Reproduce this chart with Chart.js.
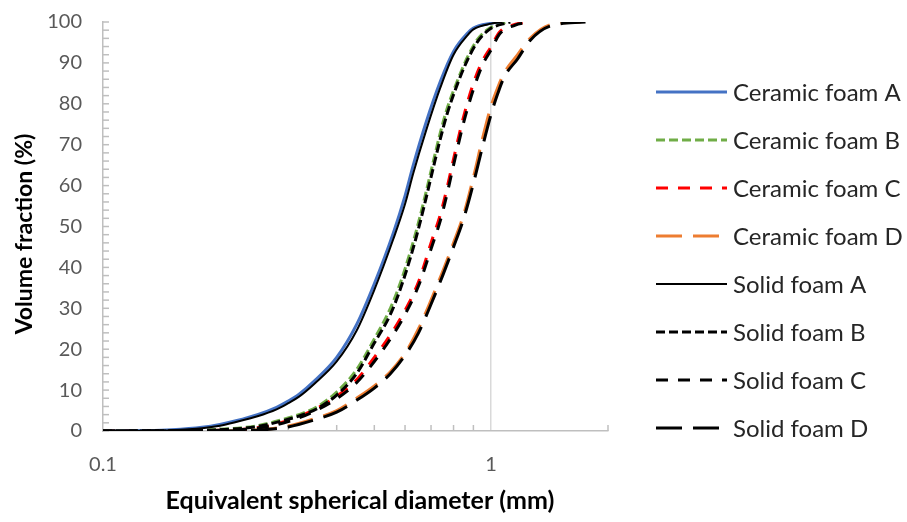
<!DOCTYPE html>
<html><head><meta charset="utf-8">
<script src="https://cdn.jsdelivr.net/npm/chart.js@4/dist/chart.umd.min.js"></script>
<style>html,body{margin:0;padding:0;background:#fff}</style>
</head><body>
<canvas id="c" width="907" height="522"></canvas>
<script>
// ---- data ----
const xTitle = 'Equivalent spherical diameter (mm)';
const yTitle = 'Volume fraction (%)';
const seriesNames = ['Ceramic foam A','Ceramic foam B','Ceramic foam C','Ceramic foam D','Solid foam A','Solid foam B','Solid foam C','Solid foam D'];
const xTickLabels = [0.1, 1];
const xMinorTicks = [0.2,0.3,0.4,0.5,0.6,0.7,0.8,0.9,2];
const yMinorTicks = [0,2,4,6,8,10,12,14,16,18,20,22,24,26,28,30,32,34,36,38,40,42,44,46,48,50,52,54,56,58,60,62,64,66,68,70,72,74,76,78,80,82,84,86,88,90,92,94,96,98,100];

const ceramicA_d = [0.10,0.13,0.15,0.18,0.20,0.22,0.25,0.28,0.30,0.32,0.35,0.40,0.45,0.50,0.56,0.60,0.63,0.68,0.74,0.80,0.87,0.90,1.00,1.05];
const ceramicA_v = [0,0.1,0.3,0.9,1.6,2.5,4.0,5.8,7.3,9.0,12.2,18,26,36,48.5,57.5,65,75.5,85.5,92.8,97.3,98.5,99.7,100];
const solidA_d   = [0.10,0.13,0.15,0.18,0.20,0.22,0.25,0.28,0.30,0.32,0.35,0.40,0.45,0.50,0.56,0.60,0.63,0.68,0.74,0.80,0.87,0.90,1.00,1.07];
const solidA_v   = [0,0.05,0.2,0.7,1.3,2.2,3.6,5.3,6.8,8.4,11.5,17,24.5,34.5,47,55.5,63,73.5,84,92,96.8,98.2,99.6,100];

const ceramicB_d = [0.10,0.15,0.20,0.25,0.29,0.33,0.36,0.40,0.45,0.50,0.55,0.58,0.62,0.65,0.68,0.71,0.74,0.77,0.82,0.87,0.92,0.99,1.10];
const ceramicB_v = [0,0.1,0.4,1.3,2.8,4.5,6.2,9.5,15,22.5,30,35.5,44,51,58.5,66,73,78.8,85.8,91.5,95.6,98.5,100];
const solidB_d   = [0.10,0.15,0.20,0.25,0.29,0.33,0.36,0.40,0.45,0.50,0.55,0.58,0.62,0.65,0.68,0.71,0.74,0.77,0.82,0.87,0.92,0.99,1.12];
const solidB_v   = [0,0.1,0.3,1.1,2.5,4.1,5.7,8.8,14,21.5,28.5,34,42.5,49.5,57,64.5,71.5,77.5,85,90.8,95,98.2,100];

const ceramicC_d = [0.10,0.15,0.20,0.25,0.30,0.35,0.40,0.45,0.50,0.55,0.60,0.65,0.70,0.74,0.77,0.80,0.85,0.90,0.95,1.00,1.05,1.15,1.25];
const ceramicC_v = [0,0.05,0.2,0.8,2.6,5.2,8.5,12.5,18,23.5,29.5,36.5,46,53,59.5,66.5,77,85,90.5,94,97.5,99.4,100];
const solidC_d   = [0.10,0.15,0.20,0.25,0.30,0.35,0.40,0.45,0.50,0.55,0.60,0.65,0.70,0.74,0.77,0.80,0.85,0.90,0.95,1.00,1.05,1.15,1.27];
const solidC_v   = [0,0.05,0.2,0.7,2.3,4.8,7.9,11.8,17,22.5,28.5,35.5,44.5,51.5,58,65,75.5,83.5,89.5,93.2,97,99.2,100];

const ceramicD_d = [0.10,0.20,0.25,0.30,0.35,0.40,0.45,0.50,0.55,0.60,0.65,0.70,0.75,0.80,0.85,0.90,0.95,1.00,1.04,1.08,1.17,1.26,1.42,1.70];
const ceramicD_v = [0,0,0.3,1.2,3,5,8,11,14.5,19,25,32,39,46,53,62,71.5,79.5,84,87.5,92,96,99.3,100];
const solidD_d   = [0.10,0.20,0.25,0.30,0.35,0.40,0.45,0.50,0.55,0.60,0.65,0.70,0.75,0.80,0.85,0.90,0.95,1.00,1.04,1.08,1.17,1.26,1.42,1.75];
const solidD_v   = [0,0,0.2,1.0,2.7,4.6,7.5,10.5,14,18.5,24,31,38,45,52,60.5,69.5,77.5,82.5,86.5,91,95.5,99,100];

// ---- styles ----
const styles = [
  {color:'#4472C4', width:3, dash:[]},
  {color:'#70AD47', width:3, dash:[9,4]},
  {color:'#FF0000', width:3, dash:[12,10]},
  {color:'#ED7D31', width:3, dash:[26,11]},
  {color:'#000000', width:2, dash:[]},
  {color:'#000000', width:3, dash:[9,4]},
  {color:'#000000', width:3, dash:[12,10]},
  {color:'#000000', width:3, dash:[26,11]}
];
const allD = [ceramicA_d, ceramicB_d, ceramicC_d, ceramicD_d, solidA_d, solidB_d, solidC_d, solidD_d];
const allV = [ceramicA_v, ceramicB_v, ceramicC_v, ceramicD_v, solidA_v, solidB_v, solidC_v, solidD_v];

const datasets = seriesNames.map((name, i) => ({
  label: name,
  data: allD[i].map((x, k) => ({x: x, y: allV[i][k]})),
  borderColor: styles[i].color,
  backgroundColor: styles[i].color,
  borderWidth: styles[i].width,
  borderDash: styles[i].dash,
  pointRadius: 0,
  fill: false,
  cubicInterpolationMode: 'monotone',
  order: i < 4 ? 1 : 0
}));

const overlay = {
  id: 'overlay',
  beforeDatasetsDraw(chart) {
    const ctx = chart.ctx, xs = chart.scales.x, ys = chart.scales.y;
    ctx.save();
    ctx.strokeStyle = '#BFBFBF';
    ctx.lineWidth = 1.5;
    yMinorTicks.forEach(v => {
      const p = ys.getPixelForValue(v);
      ctx.beginPath(); ctx.moveTo(xs.left, p); ctx.lineTo(xs.left + 6, p); ctx.stroke();
    });
    xMinorTicks.forEach(v => {
      const p = xs.getPixelForValue(v);
      ctx.beginPath(); ctx.moveTo(p, ys.bottom); ctx.lineTo(p, ys.bottom - 6); ctx.stroke();
    });
    ctx.restore();
  },
  afterDraw(chart) {
    const ctx = chart.ctx;
    ctx.save();
    ctx.fillStyle = '#000';
    ctx.textAlign = 'center';
    ctx.textBaseline = 'middle';
    ctx.font = 'bold 25px Lato';
    ctx.fillText(xTitle, 360, 501);
    ctx.save();
    ctx.font = 'bold 23px Lato';
    ctx.translate(25, 234);
    ctx.rotate(-Math.PI / 2);
    ctx.fillText(yTitle, 0, 0);
    ctx.restore();
    // legend
    ctx.font = '24px Lato';
    ctx.textAlign = 'left';
    ctx.fillStyle = '#262626';
    chart.data.datasets.forEach((ds, i) => {
      const y = 92 + 48 * i;
      ctx.save();
      ctx.strokeStyle = ds.borderColor;
      ctx.lineWidth = ds.borderWidth;
      ctx.setLineDash(ds.borderDash);
      ctx.beginPath(); ctx.moveTo(656, y); ctx.lineTo(727, y); ctx.stroke();
      ctx.restore();
      ctx.fillText(ds.label, 733, y + 1);
    });
    ctx.restore();
  }
};

new Chart(document.getElementById('c'), {
  type: 'line',
  data: { datasets: datasets },
  options: {
    responsive: false,
    animation: false,
    layout: { padding: { top: 22, right: 299, left: 0, bottom: 0 } },
    plugins: { legend: { display: false }, tooltip: { enabled: false } },
    scales: {
      x: {
        type: 'logarithmic', min: 0.1, max: 2,
        afterFit(s) { s.height = 91; },
        border: { color: '#BFBFBF', width: 1.5 },
        grid: { drawTicks: false, lineWidth: 1.5,
          color: c => (c.tick && Math.abs(c.tick.value - 1) < 1e-9) ? '#D9D9D9' : 'rgba(0,0,0,0)' },
        ticks: { autoSkip: false, maxRotation: 0, color: '#595959', padding: 22,
          font: { family: 'Lato', size: 20 },
          callback(v) { const m = xTickLabels.find(t => Math.abs(t - v) < 1e-9); return m === undefined ? '' : String(m); } }
      },
      y: {
        min: 0, max: 100,
        afterFit(s) { s.width = 103; },
        border: { color: '#BFBFBF', width: 1.5 },
        grid: { drawOnChartArea: false, drawTicks: true, tickLength: 21, tickColor: 'rgba(0,0,0,0)' },
        ticks: { stepSize: 10, color: '#595959', padding: 0, font: { family: 'Lato', size: 20 } }
      }
    }
  },
  plugins: [overlay]
});
</script>
</body></html>
